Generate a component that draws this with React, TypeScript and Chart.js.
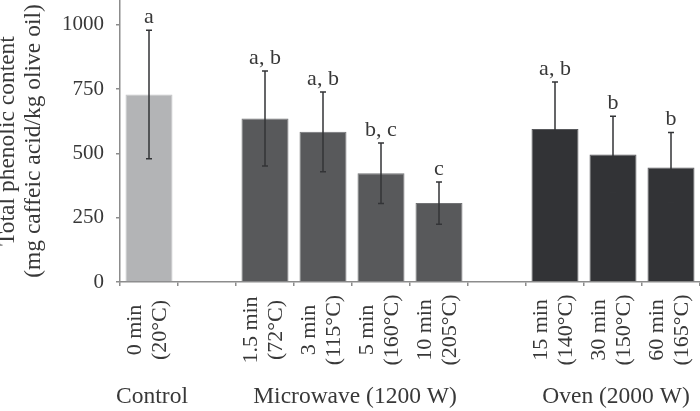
import React, { useEffect, useRef } from 'react';
import { Chart, registerables } from 'chart.js';

Chart.register(...registerables);

// ---- data ----
const categories = ['control', 'gap1', 'mw1.5', 'mw3', 'mw5', 'mw10', 'gap2', 'ov15', 'ov30', 'ov60'];
const tickLines: string[][] = [
  ['0 min', '(20°C)'],
  [],
  ['1.5 min', '(72°C)'],
  ['3 min', '(115°C)'],
  ['5 min', '(160°C)'],
  ['10 min', '(205°C)'],
  [],
  ['15 min', '(140°C)'],
  ['30 min', '(150°C)'],
  ['60 min', '(165°C)'],
];
const values: (number | null)[] = [729, null, 636, 584, 423, 307, null, 595, 496, 445];
const errors: (number | null)[] = [250, null, 185, 155, 118, 82, null, 183, 149, 137];
const letters = ['a', '', 'a, b', 'a, b', 'b, c', 'c', '', 'a, b', 'b', 'b'];
const groupNames = ['Control', 'Microwave (1200 W)', 'Oven (2000 W)'];
const groupMembers = [[0], [2, 3, 4, 5], [7, 8, 9]];
const yTicks = [0, 250, 500, 750, 1000];
const yTitle = ['Total phenolic content', '(mg caffeic acid/kg olive oil)'];

const barColors = ['#b3b4b6', 'rgba(0,0,0,0)', '#58595b', '#58595b', '#58595b', '#58595b', 'rgba(0,0,0,0)', '#323336', '#323336', '#323336'];
const barBorders = ['#c2c3c5', 'rgba(0,0,0,0)', '#727375', '#727375', '#727375', '#727375', 'rgba(0,0,0,0)', '#58595c', '#58595c', '#58595c'];

const FONT = '"Liberation Serif", "DejaVu Serif", serif';
const TEXT = '#383838';
const AXIS = '#8c8c8c';

const annotations = {
  id: 'annotations',
  afterDatasetsDraw(chart: any) {
    const ctx = chart.ctx as CanvasRenderingContext2D;
    const xs = chart.scales.x;
    const ys = chart.scales.y;
    ctx.save();
    // error bars and letters
    values.forEach((v, i) => {
      if (v == null) return;
      const e = errors[i] as number;
      const px = xs.getPixelForValue(i);
      const top = ys.getPixelForValue(v + e);
      const bot = ys.getPixelForValue(v - e);
      ctx.strokeStyle = '#333437';
      ctx.lineWidth = 1.5;
      ctx.beginPath();
      ctx.moveTo(px, top);
      ctx.lineTo(px, bot);
      ctx.moveTo(px - 3, top);
      ctx.lineTo(px + 3, top);
      ctx.moveTo(px - 3, bot);
      ctx.lineTo(px + 3, bot);
      ctx.stroke();
      ctx.fillStyle = TEXT;
      ctx.font = `22px ${FONT}`;
      ctx.textAlign = 'center';
      ctx.textBaseline = 'alphabetic';
      ctx.fillText(letters[i], px, top - 7);
    });
    // rotated category labels
    ctx.font = `22px ${FONT}`;
    ctx.fillStyle = TEXT;
    ctx.textAlign = 'center';
    ctx.textBaseline = 'alphabetic';
    tickLines.forEach((lines, i) => {
      const cx = xs.getPixelForValue(i);
      lines.forEach((t, j) => {
        const lx = cx - 8 + j * 25;
        ctx.save();
        ctx.translate(lx, 330);
        ctx.rotate(-Math.PI / 2);
        ctx.fillText(t, 0, 0);
        ctx.restore();
      });
    });
    // group labels
    ctx.font = `23.5px ${FONT}`;
    groupNames.forEach((g, k) => {
      const m = groupMembers[k];
      const cx = m.reduce((s, i) => s + xs.getPixelForValue(i), 0) / m.length + 3;
      ctx.fillText(g, cx, 403);
    });
    ctx.restore();
  },
};

export default function App() {
  const ref = useRef<HTMLCanvasElement>(null);
  useEffect(() => {
    if (!ref.current) return;
    const chart = new Chart(ref.current, {
      type: 'bar',
      data: {
        labels: categories,
        datasets: [
          {
            data: values as any,
            backgroundColor: barColors,
            borderColor: barBorders,
            borderWidth: 1,
            barPercentage: 0.81,
            categoryPercentage: 1,
          },
        ],
      },
      options: {
        animation: false,
        responsive: false,
        maintainAspectRatio: false,
        layout: { padding: 0 },
        plugins: { legend: { display: false }, tooltip: { enabled: false } },
        scales: {
          x: {
            grid: { display: true, drawOnChartArea: false, drawTicks: true, tickLength: 4, color: AXIS, lineWidth: 1.5, offset: true },
            border: { display: true, color: AXIS, width: 1.5 },
            ticks: { display: false },
            afterFit: (s: any) => {
              s.height = 129;
              s.paddingLeft = 0;
              s.paddingRight = 0;
            },
          },
          y: {
            min: 0,
            max: 1097,
            ticks: {
              stepSize: 250,
              padding: 12,
              color: TEXT,
              font: { family: FONT, size: 21 },
              callback: (v: any) => String(v),
            },
            grid: { display: true, drawOnChartArea: false, drawTicks: true, tickLength: 4, color: AXIS, lineWidth: 1.5 },
            border: { display: true, color: AXIS, width: 1.5 },
            title: {
              display: true,
              text: yTitle,
              color: TEXT,
              font: { family: FONT, size: 23.5, lineHeight: 26 / 23.5 },
              padding: { top: -5, bottom: 0 },
            },
            afterBuildTicks: (s: any) => {
              s.ticks = yTicks.map((v) => ({ value: v }));
            },
            afterFit: (s: any) => {
              s.width = 120;
              s.paddingTop = 0;
              s.paddingBottom = 0;
            },
          },
        },
      },
      plugins: [annotations],
    });
    return () => chart.destroy();
  }, []);
  return (
    <div style={{ position: 'absolute', left: 0, top: 0, width: 700, height: 411, background: '#fff' }}>
      <canvas ref={ref} width={700} height={411} style={{ width: 700, height: 411 }} />
    </div>
  );
}
